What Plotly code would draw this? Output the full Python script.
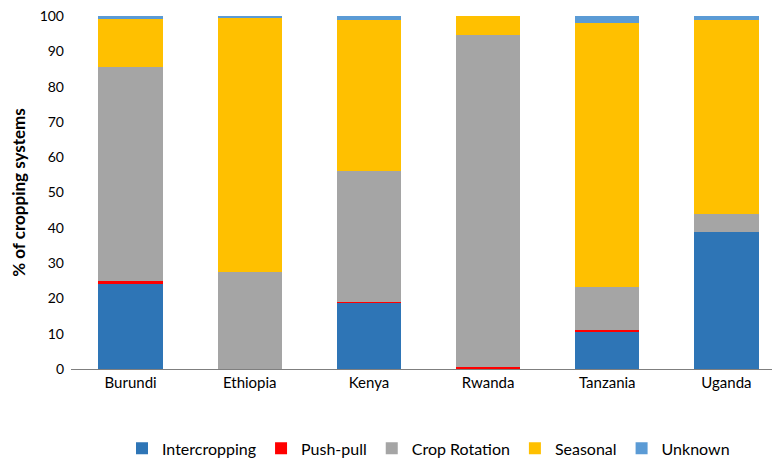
import plotly.graph_objects as go

countries = ["Burundi", "Ethiopia", "Kenya", "Rwanda", "Tanzania", "Uganda"]
intercropping = [24.0, 0.0, 18.7, 0.0, 10.5, 38.8]
push_pull = [0.8, 0.0, 0.4, 0.5, 0.5, 0.0]
crop_rotation = [60.7, 27.5, 36.9, 94.0, 12.3, 5.0]
seasonal = [13.7, 72.1, 43.0, 5.5, 74.8, 55.1]
unknown = [0.8, 0.4, 1.0, 0.0, 1.9, 1.1]

series = [
    ("Intercropping", intercropping, "#2E75B6"),
    ("Push-pull", push_pull, "#FF0000"),
    ("Crop Rotation", crop_rotation, "#A5A5A5"),
    ("Seasonal", seasonal, "#FFC000"),
    ("Unknown", unknown, "#5B9BD5"),
]

fig = go.Figure()
for name, vals, color in series:
    fig.add_trace(go.Bar(x=countries, y=vals, name=name, marker_color=color,
                         marker_line_width=0))

fig.update_layout(
    barmode="stack",
    bargap=0.46,
    width=780, height=463,
    margin=dict(l=63, r=2, t=8, b=102, autoexpand=False),
    plot_bgcolor="white", paper_bgcolor="white",
    font=dict(family="Lato, Carlito, sans-serif", size=14, color="#000000"),
    legend=dict(orientation="h", x=0.5, xanchor="center", y=-0.225, yanchor="middle",
                font=dict(size=16), traceorder="normal", itemwidth=30),
    xaxis=dict(showline=True, linecolor="#7f7f7f", linewidth=1, ticks="",
               tickfont=dict(size=15), automargin=False),
    yaxis=dict(range=[0, 100], dtick=10, showgrid=False, zeroline=False,
               showline=False, ticks="", tickfont=dict(size=14),
               ticklabeloverflow="allow", automargin=False, ticklabelstandoff=6,
               title=dict(text="<b>% of cropping systems</b>", font=dict(size=17),
                          standoff=12)),
)

fig.write_html("out.html")
